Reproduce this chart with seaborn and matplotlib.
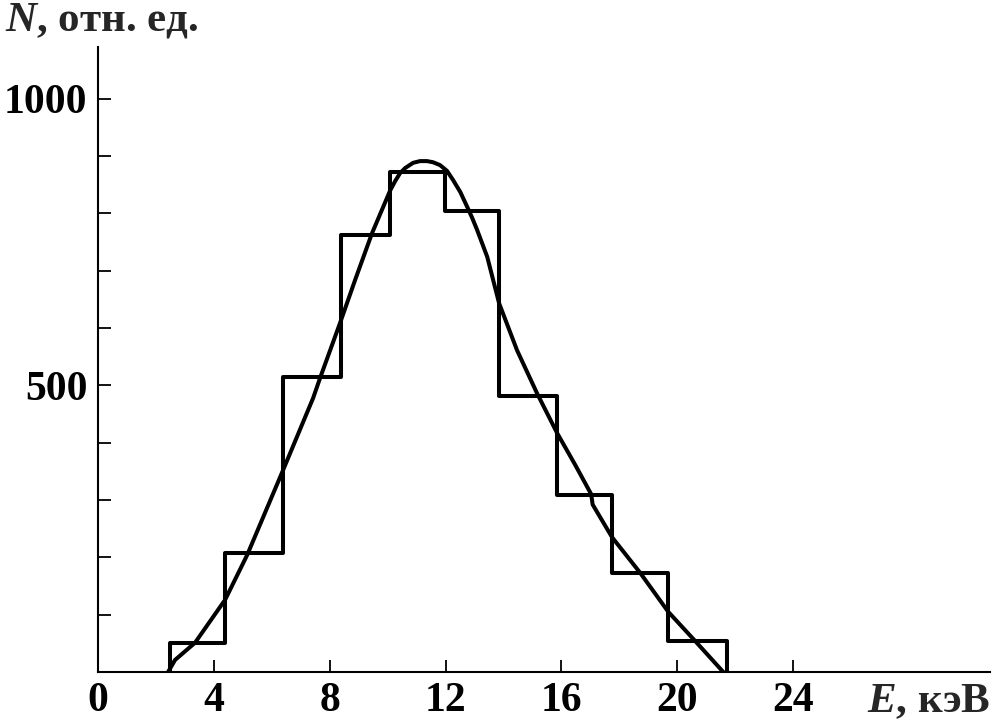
"""
Energy spectrum: histogram of counts with a smooth fitted curve.
Writes out.png (1004x724).
"""

import matplotlib
matplotlib.use("Agg")
import matplotlib.pyplot as plt
from matplotlib.ticker import FixedLocator, MultipleLocator
import pandas as pd
import seaborn as sns

# histogram bins (E, keV) and heights (rel. units)
bin_edges = [2.49, 4.39, 6.39, 8.39, 10.09, 11.99, 13.85, 15.85, 17.75, 19.69, 21.73]
bin_counts = [51, 208, 514, 762, 872, 804, 481, 309, 173, 54]

# smooth curve
curve_e = [2.42, 2.66, 3.35, 4.39, 5.15, 6.39, 7.43, 7.67, 8.36, 8.88, 9.46,
           10.09, 10.26, 10.43, 10.61, 10.88, 11.12, 11.36, 11.57, 11.81,
           12.05, 12.26, 12.51, 12.75, 12.92, 13.09, 13.44,
           13.85, 14.47, 15.16, 15.85, 16.48, 17.03, 17.08, 17.75, 18.72,
           19.69, 20.62, 21.59]
curve_n = [0, 21, 51, 126, 204, 352, 478, 513, 609, 684, 765,
           840, 856, 870, 879, 888, 891, 891, 889, 884,
           874, 858, 837, 811, 792, 771, 724,
           643, 561, 486, 417, 361, 310, 292, 235, 173,
           105, 54, 0]

x_ticks = [0, 4, 8, 12, 16, 20, 24]
y_major = [500, 1000]

LINE_W = 2.9
FONT = "Liberation Serif"

sns.set_style("white")
plt.rcParams["font.family"] = [FONT, "DejaVu Serif"]
plt.rcParams["mathtext.fontset"] = "custom"
plt.rcParams["mathtext.rm"] = f"{FONT}:bold"
plt.rcParams["mathtext.it"] = f"{FONT}:italic:bold"
plt.rcParams["mathtext.bf"] = f"{FONT}:bold"
plt.rcParams["mathtext.bfit"] = f"{FONT}:italic:bold"

fig = plt.figure(figsize=(10.04, 7.24), dpi=100)
ax = fig.add_axes([98 / 1004, 52 / 724, 892 / 1004, 625 / 724])

# step outline of the histogram, closed down to zero at both ends
step_x = [bin_edges[0]] + bin_edges
step_y = [0] + bin_counts + [0]
hist_df = pd.DataFrame({"E": step_x, "N": step_y})
sns.lineplot(data=hist_df, x="E", y="N", sort=False, estimator=None,
             drawstyle="steps-post", color="black", linewidth=LINE_W, ax=ax)

curve_df = pd.DataFrame({"E": curve_e, "N": curve_n})
sns.lineplot(data=curve_df, x="E", y="N", sort=False, estimator=None,
             color="black", linewidth=LINE_W, ax=ax)

ax.set_xlim(0, 30.8)
ax.set_ylim(0, 1090)
ax.set_xlabel("")
ax.set_ylabel("")

for side in ("top", "right"):
    ax.spines[side].set_visible(False)
for side in ("left", "bottom"):
    ax.spines[side].set_linewidth(1.5)
    ax.spines[side].set_color("black")

ax.xaxis.set_major_locator(FixedLocator(x_ticks))
ax.set_xticklabels([str(v) for v in x_ticks])
ax.yaxis.set_major_locator(FixedLocator(y_major))
ax.set_yticklabels([str(v) for v in y_major])
ax.yaxis.set_minor_locator(MultipleLocator(100))

ax.tick_params(axis="both", which="both", direction="in", length=9, width=1.3,
               color="black", labelsize=30, labelcolor="black",
               left=True, bottom=True)
ax.tick_params(axis="x", pad=7)
ax.tick_params(axis="y", pad=7.5)
ax.tick_params(axis="x", which="minor", bottom=False)
for lbl in ax.get_xticklabels() + ax.get_yticklabels():
    lbl.set_fontweight("bold")

fig.text(5 / 1004, 1 - 30 / 724, r"$\mathbfit{N}$, отн. ед.", fontsize=31,
         fontweight="bold", ha="left", va="baseline")
fig.text(990 / 1004, 1 - 712 / 724, r"$\mathbfit{E}$, кэВ", fontsize=31,
         fontweight="bold", ha="right", va="baseline")

fig.savefig("out.png", dpi=100)
plt.close(fig)
